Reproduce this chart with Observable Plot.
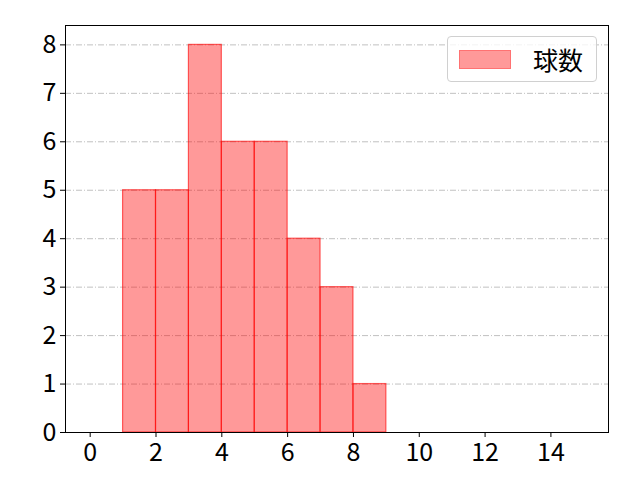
<!DOCTYPE html>
<html><head><meta charset="utf-8">
<script src="https://cdn.jsdelivr.net/npm/d3@7"></script>
<script src="https://cdn.jsdelivr.net/npm/@observablehq/plot@0.6"></script>
<style>
body{margin:0;background:#fff;}
#wrap{position:relative;width:640px;height:480px;font-family:"Noto Sans CJK JP","DejaVu Sans",sans-serif;}
#legend{position:absolute;left:447px;top:36px;width:148px;height:44px;border:1px solid #d0d0d0;border-radius:4px;background:rgba(255,255,255,0.8);}
#legend .patch{position:absolute;left:11px;top:13px;width:52px;height:19px;background:rgba(255,0,0,0.4);border:1px solid rgba(255,0,0,0.25);box-sizing:border-box;}
#legend .lab{position:absolute;left:85px;top:2px;font-size:25px;line-height:40px;color:#000;}
svg text{font-size:25px;}
</style></head>
<body><div id="wrap"></div>
<script>
const binStart = [1,2,3,4,5,6,7,8];
const binEnd   = [2,3,4,5,6,7,8,9];
const counts   = [5,5,8,6,6,4,3,1];
const xTicks = [0,2,4,6,8,10,12,14];
const yTicks = [0,1,2,3,4,5,6,7,8];
const seriesName = "球数";

const data = binStart.map((s,i)=>({x1:s,x2:binEnd[i],y:counts[i]}));

const chart = Plot.plot({
  width:640, height:480,
  marginLeft:65, marginRight:32, marginTop:25, marginBottom:48,
  style:{fontFamily:'"Noto Sans CJK JP","DejaVu Sans",sans-serif', fontSize:"25px", background:"#fff", color:"#000"},
  x:{domain:[-0.75,15.75], ticks:xTicks, tickSize:5, tickPadding:4, label:null, tickFormat:d=>String(d)},
  y:{domain:[0,8.4], ticks:yTicks, tickSize:5, tickPadding:4, label:null, tickFormat:d=>String(d)},
  marks:[
    Plot.gridY(yTicks,{stroke:"#b0b0b0", strokeOpacity:1, strokeDasharray:"6,2,1,2", strokeWidth:0.8}),
    Plot.rectY(data,{x1:"x1",x2:"x2",y:"y",fill:"red",fillOpacity:0.4,stroke:"red",strokeOpacity:0.6,strokeWidth:1.2,inset:0}),
    Plot.axisX({ticks:xTicks, tickSize:5, tickPadding:6, fontSize:25, tickFormat:d=>String(d)}),
    Plot.axisY({ticks:yTicks, tickSize:5, tickPadding:4, fontSize:25, tickFormat:d=>String(d)}),
    Plot.frame({stroke:"#000", strokeWidth:1})
  ]
});
const wrap = document.getElementById("wrap");
wrap.appendChild(chart);
const lg = document.createElement("div");
lg.id="legend";
lg.innerHTML = '<div class="patch"></div><div class="lab"></div>';
lg.querySelector(".lab").textContent = seriesName;
wrap.appendChild(lg);
</script></body></html>
